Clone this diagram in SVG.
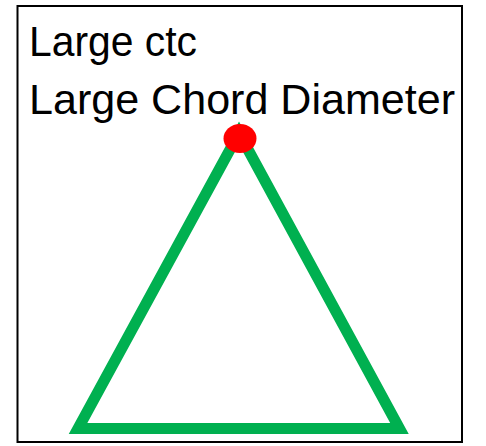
<svg xmlns="http://www.w3.org/2000/svg" width="486" height="446" viewBox="0 0 486 446">
<style>
.frame{fill:#fff;stroke:#000;stroke-width:2}
.lbl{font-family:"Liberation Sans",Arial,sans-serif;font-size:42px;fill:#000}
.tri{fill:none;stroke:#00B050;stroke-width:11;stroke-linejoin:miter}
.dot{fill:#FF0000}
</style>
<rect x="0" y="0" width="486" height="446" fill="#fff"/>
<g id="frame"><rect class="frame" x="17.5" y="6" width="444.5" height="436"/></g>
<g id="labels">
<text class="lbl" x="29" y="55.5" textLength="168" lengthAdjust="spacingAndGlyphs">Large ctc</text>
<text class="lbl" x="29" y="113.5" textLength="426" lengthAdjust="spacingAndGlyphs">Large Chord Diameter</text>
</g>
<g id="triangle"><polygon class="tri" points="239,133 399.5,428.5 78,428.5"/></g>
<g id="apex-dot"><ellipse class="dot" cx="240" cy="138.5" rx="16.5" ry="14.5"/></g>
</svg>
